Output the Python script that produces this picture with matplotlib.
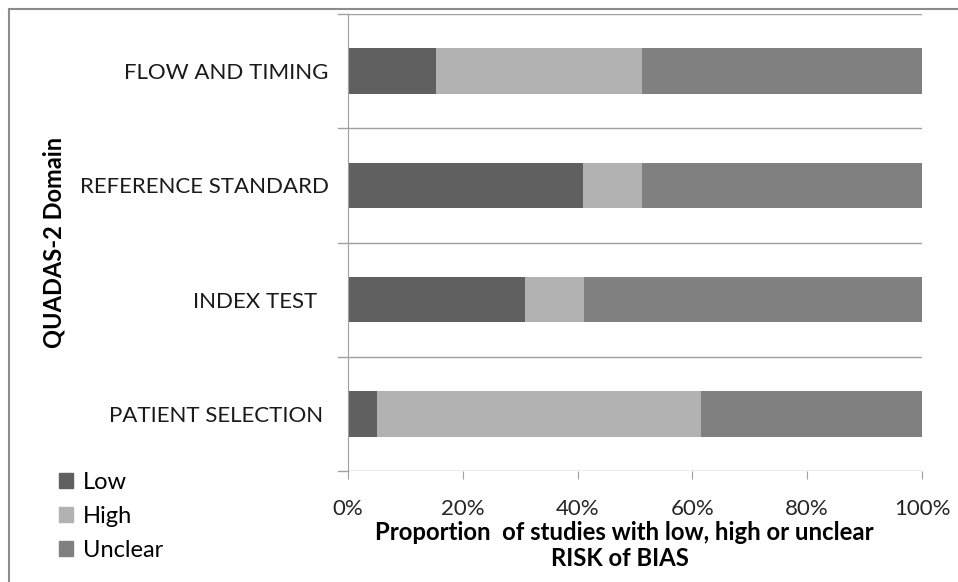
import numpy as np
import matplotlib
matplotlib.use("Agg")
import matplotlib.pyplot as plt
from matplotlib.patches import Patch
from matplotlib.lines import Line2D

# QUADAS-2 domains, bottom to top
domains = ["PATIENT SELECTION", "INDEX TEST", "REFERENCE STANDARD", "FLOW AND TIMING"]
low = [5.1, 30.8, 41.0, 15.4]
high = [56.4, 10.3, 10.3, 35.9]
unclear = [38.5, 58.9, 48.7, 48.7]
series_names = ["Low", "High", "Unclear"]
series_colors = ["#606060", "#b2b2b2", "#808080"]
xticks = [0, 20, 40, 60, 80, 100]

plt.rcParams['font.family'] = ['Lato', 'DejaVu Sans']

W, H = 958, 582
fig = plt.figure(figsize=(W/100, H/100), dpi=100)
ax = fig.add_axes([348/W, 1-471/H, (922-348)/W, (471-14)/H])

y = np.arange(len(domains))
left = np.zeros(len(domains))
for vals, name, col in zip([low, high, unclear], series_names, series_colors):
    ax.barh(y, vals, left=left, height=0.40, color=col, label=name)
    left = left + np.array(vals)

ax.set_xlim(0, 100)
ax.set_ylim(-0.5, len(domains) - 0.5)

# category separators with small ticks left of the axis
for b in np.arange(-0.5, len(domains), 1.0):
    ax.axhline(b, color="#a0a0a0", lw=1.0, zorder=0)
    ax.add_line(Line2D([-1.75, 0], [b, b], color="#a0a0a0", lw=1.0, clip_on=False))

labels = {"INDEX TEST": "INDEX TEST  ", "PATIENT SELECTION": "PATIENT SELECTION "}
ax.set_yticks(y)
ax.set_yticklabels([labels.get(d, d) for d in domains], fontsize=16, color="#1a1a1a")
ax.tick_params(axis="y", length=0, pad=14)
ax.set_xticks(xticks)
ax.set_xticklabels(["%d%%" % t for t in xticks], fontsize=16, color="#262626")
ax.tick_params(axis="x", length=6, direction="out", color="#a0a0a0", pad=14)
for s in ["top", "right", "bottom"]:
    ax.spines[s].set_visible(False)
ax.spines["left"].set_color("#a0a0a0")

fig.text(624/W, 1-533/H, "Proportion  of studies with low, high or unclear", fontsize=17.2,
         fontweight="bold", ha="center", va="center")
fig.text(620/W, 1-559/H, "RISK of BIAS", fontsize=17.2, fontweight="bold", ha="center", va="center")
fig.text(54/W, 1-242/H, "QUADAS-2 Domain", rotation=90, fontsize=17, fontweight="bold",
         ha="center", va="center")

handles = [Patch(color=c, label=n) for n, c in zip(series_names, series_colors)]
fig.legend(handles=handles, loc="upper left", bbox_to_anchor=(38/W, 1-451/H), frameon=False,
           fontsize=17, handlelength=0.6, handleheight=0.6, handletextpad=0.4, labelspacing=0.54,
           borderpad=0.4)

# outer chart frame
fig.add_artist(Line2D([9/W, 1], [1-9/H, 1-9/H], color="#8c8c8c", lw=1.5))
fig.add_artist(Line2D([9/W, 9/W], [0, 1-9/H], color="#8c8c8c", lw=1.5))

fig.savefig("out.png", dpi=100)
